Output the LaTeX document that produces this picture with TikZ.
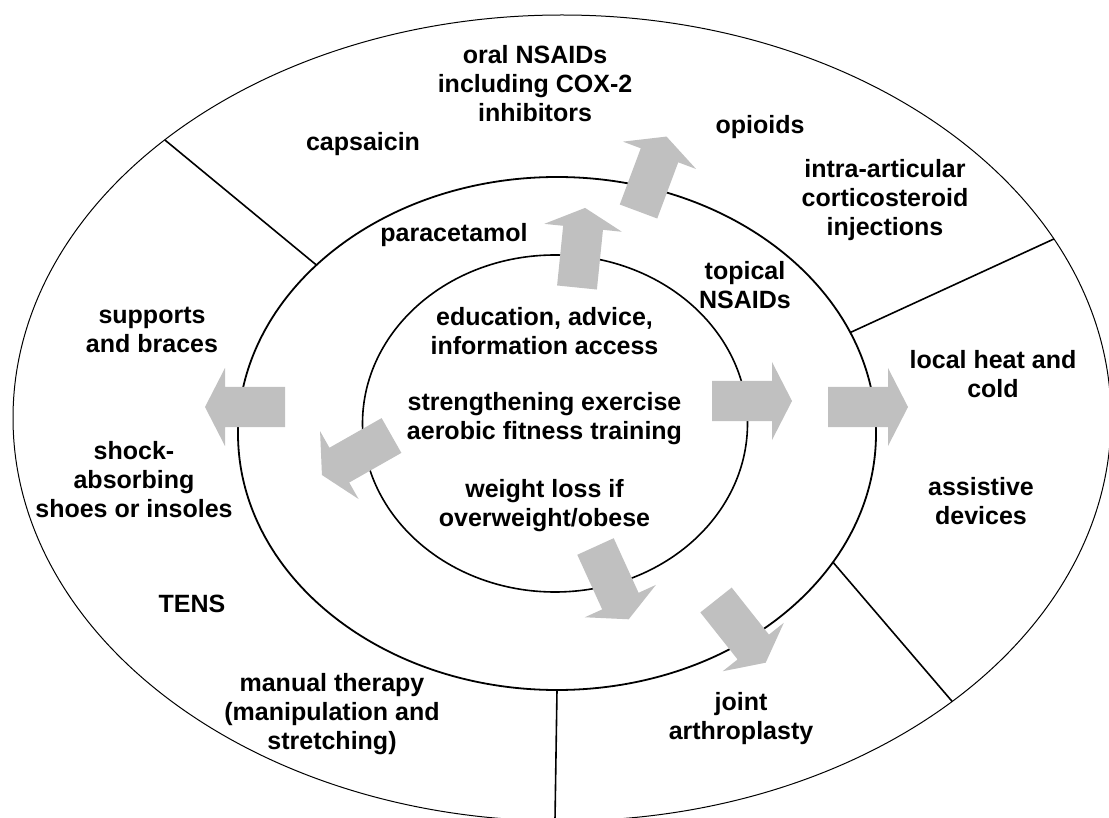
\documentclass[tikz,border=0pt]{standalone}
\usepackage{fontspec}
\setmainfont{Liberation Sans}
\usetikzlibrary{shapes.geometric}
\definecolor{arrowgray}{RGB}{192,192,192}
\tikzset{
  ring/.style={ellipse, draw=black, inner sep=0pt, outer sep=0pt},
  lbl/.style={align=center, inner sep=0pt, font=\fontsize{12.5}{14.5}\selectfont\bfseries},
  divider/.style={draw=black, line width=0.8pt},
}
\newcommand{\grayarrow}[4]{%
  \fill[arrowgray, shift={(#2,#3)}, rotate=#4]
    (0,-20) -- (60,-20) -- (60,-39) -- (80,0) -- (60,39) -- (60,20) -- (0,20) -- cycle;}
\begin{document}
\begin{tikzpicture}[x=0.5pt, y=-0.5pt]
\useasboundingbox (0,0) rectangle (1109,818);
\clip (0,0) rectangle (1109,818);
\fill[white] (0,0) rectangle (1109,818);
% rings
\node[ring, line width=0.5pt, minimum width=549pt, minimum height=403pt] (outer) at (562,418) {};
\node[ring, line width=0.9pt, minimum width=319pt, minimum height=256.5pt] (middle) at (557,433.5) {};
\node[ring, line width=0.8pt, minimum width=192.5pt, minimum height=168.5pt] (inner) at (555,423.5) {};
% dividers
\draw[divider] (middle.145.6) -- (outer.145);
\draw[divider] (middle.19.3) -- (outer.20.6);
\draw[divider] (middle.-25.9) -- (outer.-36.9);
\draw[divider] (middle.-90.9) -- (outer.-91.3);
% arrows
\grayarrow{a1}{577}{287.5}{84.2}
\grayarrow{a2}{638.5}{211.5}{69.5}
\grayarrow{a3}{712}{401}{0}
\grayarrow{a4}{828}{407}{0}
\grayarrow{a5}{285}{407}{180}
\grayarrow{a6}{391.5}{435.5}{209.6}
\grayarrow{a7}{595.5}{546.5}{-65.5}
\grayarrow{a8}{716}{600}{-51.6}
% labels
\node[lbl] (oral) at (535,83.5) {oral NSAIDs\\including COX-2\\inhibitors};
\node[lbl] (caps) at (363,144.5) {capsaicin};
\node[lbl] (opio) at (760,127) {opioids};
\node[lbl] (intra) at (885,200) {intra-articular\\corticosteroid\\injections};
\node[lbl] (para) at (454,235) {paracetamol};
\node[lbl] (topic) at (745,285.5) {topical\\NSAIDs};
\node[lbl] (supp) at (152,330) {supports\\and braces};
\node[lbl] (edu) at (544.5,331.5) {education, advice,\\information access};
\node[lbl] (heat) at (993,374) {local heat and\\cold};
\node[lbl] (stren) at (544.5,419) {strengthening exercise\\aerobic fitness training};
\node[lbl] (shock) at (134,480) {shock-\\absorbing\\shoes or insoles};
\node[lbl] (weight) at (544.5,505.5) {weight loss if\\overweight/obese};
\node[lbl] (assist) at (981,501.5) {assistive\\devices};
\node[lbl] (tens) at (192,603.5) {TENS};
\node[lbl] (manual) at (332,714) {manual therapy\\(manipulation and\\stretching)};
\node[lbl] (joint) at (741,718.5) {joint\\arthroplasty};
\end{tikzpicture}
\end{document}
